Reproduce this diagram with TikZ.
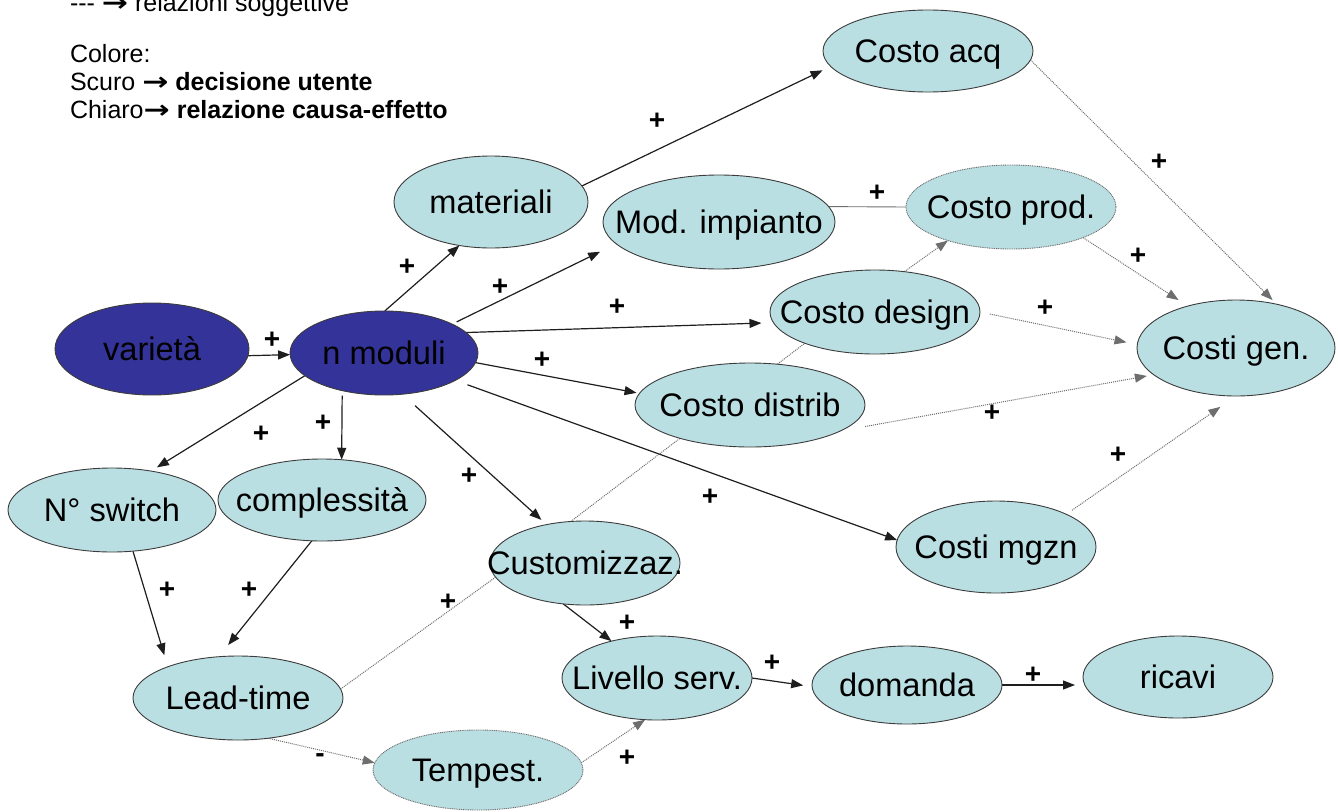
\documentclass[tikz,border=0pt]{standalone}
\usepackage{fontspec}
\setmainfont{Liberation Sans}
\newfontfamily\arrowfamily{DejaVu Sans}
\usetikzlibrary{arrows.meta,shapes.geometric,backgrounds}

\definecolor{lightc}{RGB}{186,223,227}
\definecolor{darkc}{RGB}{51,51,153}
\definecolor{edgegray}{RGB}{60,60,60}
\definecolor{linec}{RGB}{30,30,30}
\definecolor{dotgray}{RGB}{110,110,110}

\newcommand{\bubblefont}{\fontsize{32.6}{39}\selectfont}
\newcommand{\signfont}{\fontsize{28}{30}\selectfont\bfseries}
\newcommand{\legendfont}{\fontsize{25}{30}\selectfont}
\newcommand{\ctext}[1]{\makebox[0pt][c]{#1}}
\newcommand{\legarrow}{{\arrowfamily\bfseries\scalebox{1.25}[1]{→}}}

\begin{document}
\begin{tikzpicture}[x=1pt,y=-1pt,
  every node/.style={inner sep=0pt, outer sep=0pt},
  bubble/.style={ellipse, draw=edgegray, line width=0.9pt, fill=lightc,
    font=\bubblefont, text height=22pt, text depth=0pt},
  darkbubble/.style={bubble, fill=darkc},
  softedge/.style={draw=dotgray, dash pattern=on 1pt off 0.8pt},
  sz/.style 2 args={minimum width=#1pt, minimum height=#2pt},
  causal/.style={draw=linec, line width=1.2pt, -{Triangle[length=12pt,width=9pt]}},
  subjective/.style={draw=dotgray, line width=1pt, dash pattern=on 1pt off 1pt},
  subjarrow/.style={subjective, -{Triangle[length=12pt,width=9pt]}},
  plainlink/.style={draw=dotgray, line width=0.9pt},
  sign/.style={font=\signfont},
  legend/.style={font=\legendfont, anchor=base west}]

\useasboundingbox (0,0) rectangle (1338,811);

% legend
\node[legend] (leg0) at (70,11) {-{}-{}- \legarrow\ relazioni soggettive};
\node[legend] (leg1) at (70,62) {Colore:};
\node[legend] (leg2) at (70,90) {Scuro \legarrow\ \textbf{decisione utente}};
\node[legend] (leg3) at (70,118) {Chiaro\legarrow\ \textbf{relazione causa-effetto}};

% variables
\node[darkbubble, sz={194}{92}] (var) at (152,349) {\ctext{varietà}};
\node[darkbubble, sz={188}{84}] (nmod) at (384,353) {\ctext{n moduli}};
\node[bubble, sz={194}{92}] (mat) at (491,202) {\ctext{materiali}};
\node[bubble, sz={232}{94}] (modimp) at (719,222) {\ctext{Mod. impianto}};
\node[bubble, sz={210}{82}] (cacq) at (928,51) {\ctext{Costo acq}};
\node[bubble, softedge, sz={210}{84}] (cprod) at (1011,207) {\ctext{Costo prod.}};
\node[bubble, sz={210}{84}] (cdes) at (875,312) {\ctext{Costo design}};
\node[bubble, sz={198}{96}] (cgen) at (1236,348) {\ctext{Costi gen.}};
\node[bubble, sz={230}{84}] (cdis) at (750,405) {\ctext{Costo distrib}};
\node[bubble, sz={200}{92}] (cmag) at (996,547) {\ctext{Costi mgzn}};
\node[bubble, sz={208}{84}] (sw) at (112,510) {\ctext{N° switch}};
\node[bubble, sz={208}{82}] (compl) at (322,500) {\ctext{complessità}};
\node[bubble, sz={210}{84}] (lead) at (238,698) {\ctext{Lead-time}};
\node[bubble, softedge, sz={210}{80}] (temp) at (478,770) {\ctext{Tempest.}};
\node[bubble, sz={190}{84}] (cust) at (585,563) {\ctext{Customizzaz.}};
\node[bubble, sz={190}{84}] (liv) at (657,678) {\ctext{Livello serv.}};
\node[bubble, sz={190}{78}] (dom) at (907,685) {\ctext{domanda}};
\node[bubble, sz={190}{82}] (ric) at (1178,677) {\ctext{ricavi}};

% links
\begin{scope}[on background layer]
\draw[causal] (var.-4) -- (nmod.181);
\draw[causal] (nmod.89) -- (mat.234);
\draw[causal, shorten <=5pt, shorten >=18pt] (nmod.23) -- (modimp.192);
\draw[causal, shorten >=12pt] (nmod.14) -- (cdes.186);
\draw[causal, shorten >=3pt] (nmod.-6) -- (cdis.174);
\draw[causal, shorten <=13pt] (nmod.-21) -- (cmag.176);
\draw[causal, shorten <=17pt, shorten >=7pt] (nmod.-66) -- (cust.135);
\draw[causal, shorten <=5pt] (nmod.222) -- (compl.64);
\draw[causal, shorten >=7pt] (nmod.196) -- (sw.45);
\draw[causal, shorten >=12pt] (sw.-63) -- (lead.156);
\draw[causal, shorten >=15pt] (compl.256) -- (lead.115);
\draw[subjective] (lead.5) -- (cust.189);
\draw[subjective] (cust.109) -- (cdes.204);
\draw[subjarrow] (cdes.54) -- (cprod.208);
\draw[plainlink] (modimp.8) -- (cprod.180);
\draw[causal, shorten >=9pt] (mat.10) -- (cacq.189);
\draw[subjarrow, shorten >=6pt] (cacq.-5) -- (cgen.47);
\draw[subjarrow, shorten >=11pt] (cprod.-23) -- (cgen.139);
\draw[subjarrow, shorten <=10pt, shorten >=11pt] (cdes.0) -- (cgen.178);
\draw[subjarrow, shorten <=25pt, shorten >=7pt] (cdis.-16) -- (cgen.198);
\draw[subjarrow, shorten <=7pt, shorten >=19pt] (cmag.25) -- (cgen.270);
\draw[causal] (cust.242) -- (liv.141);
\draw[subjarrow] (temp.4) -- (liv.254);
\draw[causal, shorten >=9pt] (liv.0) -- (dom.181);
\draw[causal, shorten >=8pt] (dom.east) -- (dom.east -| ric.west);
\draw[subjarrow] (lead.-53) -- (temp.176);
\end{scope}

% signs
\node[sign] (p1) at (272,340) {+};
\node[sign] (p2) at (407,267) {+};
\node[sign] (p3) at (500,287) {+};
\node[sign] (p4) at (617,307) {+};
\node[sign] (p5) at (542,360) {+};
\node[sign] (p6) at (710,497) {+};
\node[sign] (p7) at (469,476) {+};
\node[sign] (p8) at (323,423) {+};
\node[sign] (p9) at (261,434) {+};
\node[sign] (p10) at (167,590) {+};
\node[sign] (p11) at (249,590) {+};
\node[sign] (p12) at (448,602) {+};
\node[sign] (m1) at (320,758) {-};
\node[sign] (p13) at (627,758) {+};
\node[sign] (p14) at (627,623) {+};
\node[sign] (p15) at (772,663) {+};
\node[sign] (p16) at (1033,675) {+};
\node[sign] (p17) at (1118,455) {+};
\node[sign] (p18) at (992,413) {+};
\node[sign] (p19) at (1045,308) {+};
\node[sign] (p20) at (1138,256) {+};
\node[sign] (p21) at (1159,162) {+};
\node[sign] (p22) at (877,193) {+};
\node[sign] (p23) at (657,121) {+};
\end{tikzpicture}
\end{document}
